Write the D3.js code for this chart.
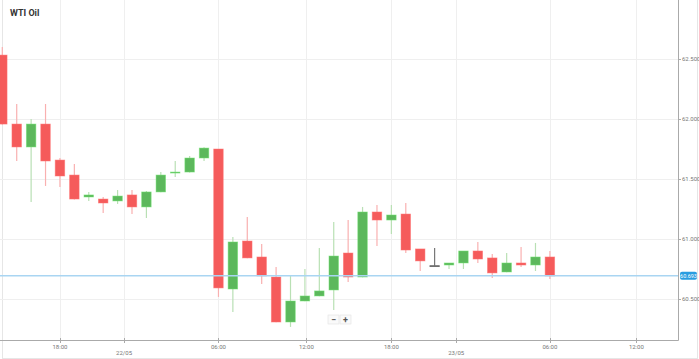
<!DOCTYPE html>
<html>
<head>
<meta charset="utf-8">
<script src="https://cdn.jsdelivr.net/npm/d3@7"></script>
<style>
  body { margin: 0; background: #fff; font-family: Roboto, "Open Sans", sans-serif; }
  .grid line { stroke: #efefef; stroke-width: 1px; }
  .tick-label { font-size: 6px; fill: #777; }
  .title { font-size: 9px; font-weight: bold; fill: #333; }
</style>
</head>
<body>
<div id="chart"></div>
<script>
// hourly candles, WTI Oil
const opens  = [62.533,61.958,61.767,61.958,61.658,61.533,61.350,61.333,61.317,61.367,
                61.267,61.392,61.550,61.558,61.675,61.750,60.583,60.983,60.850,60.683,
                60.308,60.483,60.525,60.575,60.883,60.683,61.225,61.158,61.208,60.917,
                60.778,60.783,60.800,60.900,60.842,60.725,60.800,60.783,60.850]
const highs  = [62.600,62.125,62.000,62.125,61.675,61.625,61.392,61.350,61.408,61.408,
                61.400,61.558,61.650,61.692,61.765,61.750,61.017,61.183,60.958,60.767,
                60.692,60.750,60.925,61.142,61.158,61.267,61.283,61.283,61.300,60.917,
                60.925,60.800,60.900,60.975,60.875,60.883,60.933,60.967,60.900]
const lows   = [61.955,61.650,61.308,61.442,61.433,61.330,61.317,61.217,61.292,61.208,
                61.175,61.390,61.517,61.555,61.650,60.517,60.392,60.840,60.625,60.305,
                60.267,60.480,60.523,60.408,60.642,60.680,60.942,61.042,60.883,60.733,
                60.778,60.750,60.750,60.800,60.675,60.723,60.767,60.733,60.667]
const closes = [61.958,61.767,61.958,61.650,61.525,61.333,61.367,61.300,61.358,61.267,
                61.392,61.533,61.558,61.675,61.758,60.592,60.975,60.842,60.692,60.308,
                60.483,60.525,60.567,60.858,60.683,61.225,61.158,61.200,60.908,60.817,
                60.778,60.800,60.900,60.833,60.717,60.800,60.783,60.850,60.692]

// x axis ticks, in candle index units
const tickPos    = [4, 8.45, 15, 21.1, 27, 31.5, 38, 44]
const tickLabels = ['18:00','22/05','06:00','12:00','18:00','23/05','06:00','12:00']
const yTicks = [60.5, 61, 61.5, 62, 62.5]
const lastPrice = 60.693

//consts
const
  width = 699,
  height = 359,
  plotLeft = 0,
  plotRight = 678,
  plotTop = 0,
  plotBottom = 340,
  bodyRatio = 0.66

const upColor = '#5cb85c', upWick = '#b9e0b4'
const downColor = '#f55b5b', downWick = '#f9b0b0'

const x = d3.scaleLinear().domain([-0.16, 46.89]).range([plotLeft, plotRight])
const y = d3.scaleLinear().domain([60.158, 62.992]).range([plotBottom, plotTop])
const step = x(1) - x(0)

const candles = opens.map((o, i) => ({i, o, h: highs[i], l: lows[i], c: closes[i]}))

const svg = d3.select('#chart').append('svg')
  .attr('width', width)
  .attr('height', height)

svg.append('defs').append('clipPath').attr('id', 'plot')
  .append('rect')
  .attr('x', plotLeft).attr('y', plotTop)
  .attr('width', plotRight - plotLeft).attr('height', plotBottom - plotTop)

//outer frame
svg.append('rect')
  .attr('x', 2.5).attr('y', -1)
  .attr('width', width - 4).attr('height', 359.5)
  .attr('fill', 'none').attr('stroke', '#e6e6e6')

//grid
let grid = svg.append('g').attr('class', 'grid')
grid.selectAll('.hg').data(yTicks).enter().append('line')
  .attr('x1', plotLeft).attr('x2', plotRight)
  .attr('y1', d => Math.round(y(d)) + 0.5).attr('y2', d => Math.round(y(d)) + 0.5)
grid.selectAll('.vg').data(tickPos).enter().append('line')
  .attr('x1', d => Math.round(x(d)) + 0.5).attr('x2', d => Math.round(x(d)) + 0.5)
  .attr('y1', plotTop).attr('y2', plotBottom)

//candles
let plot = svg.append('g').attr('clip-path', 'url(#plot)')
let candle = plot.selectAll('.candle').data(candles).enter().append('g')

const colorOf = d => d.c > d.o ? upColor : d.c < d.o ? downColor : '#444'
const wickOf = d => d.c > d.o ? upWick : d.c < d.o ? downWick : '#777'

candle.append('line')
  .attr('x1', d => x(d.i)).attr('x2', d => x(d.i))
  .attr('y1', d => y(d.h)).attr('y2', d => y(d.l))
  .attr('stroke', wickOf)
  .attr('stroke-width', 1.2)

candle.append('rect')
  .attr('x', d => x(d.i) - step * bodyRatio / 2)
  .attr('width', step * bodyRatio)
  .attr('y', d => y(Math.max(d.o, d.c)))
  .attr('height', d => Math.max(1, Math.abs(y(d.o) - y(d.c))))
  .attr('fill', colorOf)
  .attr('stroke', d => d3.color(colorOf(d)).brighter(0.6))
  .attr('stroke-opacity', 0.6)
  .attr('stroke-width', 0.8)

//last price line
svg.append('line')
  .attr('x1', plotLeft).attr('x2', plotRight)
  .attr('y1', y(lastPrice)).attr('y2', y(lastPrice))
  .attr('stroke', '#a9d5f2').attr('stroke-width', 1.5)

//axes lines
svg.append('line')
  .attr('x1', plotLeft).attr('x2', plotRight + 0.5)
  .attr('y1', plotBottom + 0.5).attr('y2', plotBottom + 0.5)
  .attr('stroke', '#aaa')
svg.append('line')
  .attr('x1', plotRight + 0.5).attr('x2', plotRight + 0.5)
  .attr('y1', plotTop).attr('y2', plotBottom + 0.5)
  .attr('stroke', '#aaa')

//y axis
let yAxis = svg.append('g')
yAxis.selectAll('line').data(yTicks).enter().append('line')
  .attr('x1', plotRight).attr('x2', plotRight + 3)
  .attr('y1', d => Math.round(y(d)) + 0.5).attr('y2', d => Math.round(y(d)) + 0.5)
  .attr('stroke', '#aaa')
yAxis.selectAll('text').data(yTicks).enter().append('text')
  .attr('class', 'tick-label')
  .attr('x', plotRight + 4)
  .attr('y', d => y(d))
  .attr('dy', '0.35em')
  .text(d => d3.format('.3f')(d))

//last price label
svg.append('rect')
  .attr('x', plotRight + 2).attr('y', y(lastPrice) - 4)
  .attr('width', 17).attr('height', 8)
  .attr('rx', 2)
  .attr('fill', '#2a9de0')
svg.append('text')
  .attr('x', plotRight + 10.5).attr('y', y(lastPrice))
  .attr('dy', '0.35em')
  .attr('text-anchor', 'middle')
  .style('font-size', '5.5px')
  .attr('fill', '#fff')
  .text(d3.format('.3f')(lastPrice))

//x axis
let xAxis = svg.append('g')
xAxis.selectAll('line').data(tickPos).enter().append('line')
  .attr('x1', d => Math.round(x(d)) + 0.5).attr('x2', d => Math.round(x(d)) + 0.5)
  .attr('y1', plotBottom - 2).attr('y2', plotBottom + 3)
  .attr('stroke', '#aaa')
xAxis.selectAll('text').data(tickPos).enter().append('text')
  .attr('class', 'tick-label')
  .attr('x', d => x(d))
  .attr('y', (d, i) => tickLabels[i].includes('/') ? 355 : 349)
  .attr('text-anchor', 'middle')
  .text((d, i) => tickLabels[i])

//zoom buttons
let zoomBtns = svg.append('g').attr('transform', 'translate(328,315)')
;['−', '+'].forEach((s, i) => {
  zoomBtns.append('rect')
    .attr('x', i * 12).attr('y', 0)
    .attr('width', 11).attr('height', 9)
    .attr('fill', '#fafafa').attr('stroke', '#e2e2e2').attr('stroke-width', 0.6)
  zoomBtns.append('text')
    .attr('x', i * 12 + 5.5).attr('y', 4.5)
    .attr('dy', '0.35em').attr('text-anchor', 'middle')
    .style('font-size', '9px').style('font-weight', 'bold')
    .attr('fill', '#555')
    .text(s)
})

//title
svg.append('text')
  .attr('class', 'title')
  .attr('x', 10).attr('y', 16)
  .text('WTI Oil')
</script>
</body>
</html>
